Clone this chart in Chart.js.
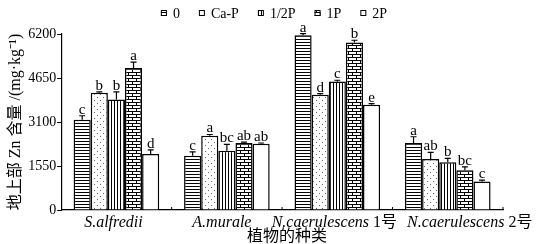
<!DOCTYPE html>
<html>
<head>
<meta charset="utf-8">
<script src="https://cdn.jsdelivr.net/npm/chart.js@4.4.0/dist/chart.umd.min.js"></script>
<style>
  html, body { margin: 0; padding: 0; background: #fff; }
  #wrap { width: 539px; height: 244px; }
</style>
</head>
<body>
<div id="wrap"><canvas id="znChart"></canvas></div>
<script>
// data
const species = ['S.alfredii', 'A.murale', 'N.caerulescens 1号', 'N.caerulescens 2号'];
const treatments = ['0', 'Ca-P', '1/2P', '1P', '2P'];
const yTicks = [0, 1550, 3100, 4650, 6200];

const zn0    = [3180, 1910, 6160, 2360];
const znCaP  = [4130, 2620, 4060, 1800];
const znHalf = [3890, 2090, 4530, 1680];
const zn1P   = [5000, 2360, 5900, 1400];
const zn2P   = [1970, 2330, 3710, 1000];

const err0    = [140, 140, 50, 220];
const errCaP  = [30, 40, 40, 230];
const errHalf = [270, 220, 40, 140];
const err1P   = [210, 30, 80, 120];
const err2P   = [150, 30, 40, 50];

const sig0    = ['c', 'c', 'a', 'a'];
const sigCaP  = ['b', 'a', 'd', 'ab'];
const sigHalf = ['b', 'bc', 'c', 'b'];
const sig1P   = ['a', 'ab', 'b', 'bc'];
const sig2P   = ['d', 'ab', 'e', 'c'];

const serif = "'Liberation Serif', 'Noto Sans CJK SC', serif";

// hatch patterns
function makePattern(w, h, draw) {
    const c = document.createElement('canvas');
    c.width = w; c.height = h;
    const g = c.getContext('2d');
    g.fillStyle = '#fff';
    g.fillRect(0, 0, w, h);
    g.fillStyle = '#000';
    draw(g);
    return g.createPattern(c, 'repeat');
}
const ctxMain = document.getElementById('znChart').getContext('2d');
const patH = makePattern(3, 3, g => g.fillRect(0, 0, 3, 1));
const patDots = makePattern(6, 6, g => { g.fillStyle = '#666'; g.fillRect(1, 1, 1, 1); g.fillRect(4, 4, 1, 1); });
const patV = makePattern(3, 3, g => g.fillRect(0, 0, 1, 3));
const patBrick = makePattern(8, 6, g => {
    g.fillRect(0, 0, 8, 1);
    g.fillRect(0, 3, 8, 1);
    g.fillRect(0, 0, 1, 3);
    g.fillRect(4, 3, 1, 3);
});
const patWhite = '#fff';

const series = [zn0, znCaP, znHalf, zn1P, zn2P];
const errors = [err0, errCaP, errHalf, err1P, err2P];
const sigs = [sig0, sigCaP, sigHalf, sig1P, sig2P];
const fills = [patH, patDots, patV, patBrick, patWhite];

const extras = {
    id: 'extras',
    afterDatasetsDraw(chart) {
        const ctx = chart.ctx;
        const y = chart.scales.y;
        const x = chart.scales.x;
        ctx.save();
        // error bars + letters
        chart.data.datasets.forEach((ds, di) => {
            const meta = chart.getDatasetMeta(di);
            meta.data.forEach((bar, i) => {
                const top = y.getPixelForValue(ds.data[i]);
                const et = y.getPixelForValue(ds.data[i] + errors[di][i]);
                ctx.strokeStyle = '#000';
                ctx.lineWidth = 1.2;
                ctx.beginPath();
                ctx.moveTo(bar.x, top);
                ctx.lineTo(bar.x, et);
                ctx.moveTo(bar.x - 3, et);
                ctx.lineTo(bar.x + 3, et);
                ctx.stroke();
                ctx.fillStyle = '#000';
                ctx.font = '15px ' + serif;
                ctx.textAlign = 'center';
                ctx.textBaseline = 'alphabetic';
                ctx.fillText(sigs[di][i], bar.x, et - 2);
            });
        });
        // small inward ticks on the x axis between groups
        const half = (x.getPixelForValue(1) - x.getPixelForValue(0)) / 2;
        ctx.lineWidth = 1;
        ctx.beginPath();
        species.forEach((s, i) => {
            const px = x.getPixelForValue(i) + half;
            ctx.moveTo(px, x.top);
            ctx.lineTo(px, x.top - 3);
        });
        ctx.stroke();
        // category labels, italic name + upright suffix
        const nudge = [-3, -5, -3, 22];
        species.forEach((s, i) => {
            const m = s.match(/^(.*?)(\s\d号)?$/);
            const it = m[1], rest = m[2] || '';
            ctx.font = 'italic 16px ' + serif;
            const w1 = ctx.measureText(it).width;
            ctx.font = '16px ' + serif;
            const w2 = ctx.measureText(rest).width;
            let sx = x.getPixelForValue(i) + nudge[i] - (w1 + w2) / 2;
            ctx.textAlign = 'left';
            ctx.textBaseline = 'middle';
            ctx.font = 'italic 16px ' + serif;
            ctx.fillText(it, sx, x.top + 13);
            ctx.font = '16px ' + serif;
            ctx.fillText(rest, sx + w1, x.top + 13);
        });
        ctx.font = '16px ' + serif;
        ctx.textAlign = 'center';
        ctx.fillText('植物的种类', 287, x.top + 27);

        // legend
        ctx.font = '14px ' + serif;
        const gap = 19, box = 6, boxGap = 6;
        const widths = treatments.map(t => box + boxGap + ctx.measureText(t).width);
        const total = widths.reduce((a, b) => a + b, 0) + gap * (treatments.length - 1);
        let lx = 274 - total / 2;
        treatments.forEach((t, i) => {
            ctx.fillStyle = fills[i];
            ctx.fillRect(lx, 10, box, box);
            ctx.strokeStyle = '#000';
            ctx.lineWidth = 1;
            ctx.strokeRect(lx + 0.5, 10.5, box - 1, box - 1);
            ctx.fillStyle = '#000';
            ctx.textAlign = 'left';
            ctx.textBaseline = 'middle';
            ctx.fillText(t, lx + box + boxGap, 14);
            lx += widths[i] + gap;
        });
        ctx.restore();
    }
};

new Chart(ctxMain, {
    type: 'bar',
    data: {
        labels: species,
        datasets: treatments.map((t, i) => ({
            label: t,
            data: series[i],
            backgroundColor: fills[i],
            borderColor: '#000',
            borderWidth: 1.5,
            borderSkipped: 'bottom'
        }))
    },
    options: {
        responsive: true,
        maintainAspectRatio: false,
        animation: false,
        categoryPercentage: 0.775,
        barPercentage: 1,
        layout: { padding: { top: 34, right: 36, bottom: 26, left: 6 } },
        plugins: { legend: { display: false }, tooltip: { enabled: false } },
        scales: {
            x: {
                ticks: { display: false },
                grid: { display: false },
                border: { color: '#000', width: 1.2 }
            },
            y: {
                min: 0,
                max: 6200,
                afterBuildTicks: s => { s.ticks = yTicks.map(v => ({ value: v })); },
                ticks: { color: '#000', font: { family: serif, size: 14 }, padding: 1, callback: v => String(v) },
                grid: { drawOnChartArea: false, tickLength: 4, color: '#000' },
                border: { color: '#000', width: 1.2 },
                title: {
                    display: true,
                    text: '地上部 Zn 含量 /(mg·kg⁻¹)',
                    color: '#000',
                    font: { family: serif, size: 16 },
                    padding: { top: 0, bottom: 2 }
                }
            }
        }
    },
    plugins: [extras]
});
</script>
</body>
</html>
